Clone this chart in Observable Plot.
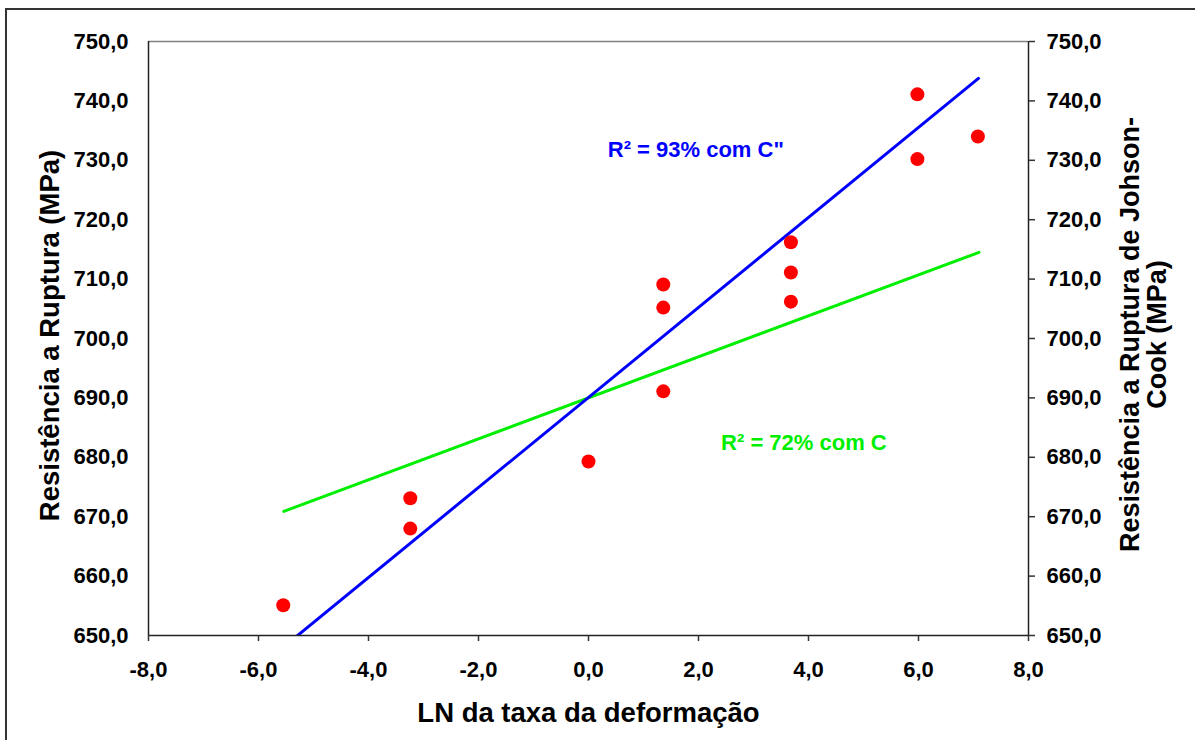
<!DOCTYPE html>
<html><head><meta charset="utf-8">
<script src="https://cdn.jsdelivr.net/npm/d3@7"></script>
<script src="https://cdn.jsdelivr.net/npm/@observablehq/plot@0.6"></script>
<style>
html,body{margin:0;padding:0;background:#fff;overflow:hidden;width:1195px;height:740px;}
#frame{position:absolute;left:5px;top:8px;width:1300px;height:900px;border:2px solid #333;box-sizing:border-box;}
#chart{position:absolute;left:0;top:0;}
</style></head><body><div id="frame"></div><div id="chart"></div>
<script>
// measured points
const lnRate   = [-5.55, -3.24, -3.24, 0.0, 1.36, 1.36, 1.36, 3.68, 3.68, 3.68, 5.98, 5.98, 7.08];
const strength = [655.1, 668.0, 673.1, 679.3, 691.1, 705.2, 709.1, 706.2, 711.1, 716.2, 730.2, 741.1, 734.0];
// fitted lines (endpoints)
const blueX = [-5.54, 7.09];
const blueY = [648.1, 743.8];
const greenX = [-5.54, 7.10];
const greenY = [670.9, 714.5];
// tick values
const xTicks = [-8, -6, -4, -2, 0, 2, 4, 6, 8];
const yTicks = [650, 660, 670, 680, 690, 700, 710, 720, 730, 740, 750];
// labels
const xTitle = "LN da taxa da deformação";
const yTitleLeft = "Resistência a Ruptura (MPa)";
const yTitleRight = "Resistência a Ruptura de Johson-\nCook (MPa)";
const annotations = [
  {x: 0.35, y: 730.5, text: "R² = 93% com C\"", color: "#0000ff"},
  {x: 2.41, y: 681.3, text: "R² = 72% com C", color: "#00ee00"}
];

const points = lnRate.map((x, i) => ({x, y: strength[i]}));
const blue = blueX.map((x, i) => ({x, y: blueY[i]}));
const green = greenX.map((x, i) => ({x, y: greenY[i]}));
const fmt = d => d.toFixed(1).replace(".", ",");

const chart = Plot.plot({
  width: 1195, height: 740,
  marginLeft: 148, marginRight: 167, marginTop: 41, marginBottom: 105,
  style: {fontFamily: "'Liberation Sans', Arial, sans-serif", fontSize: "22px", fontWeight: "bold", color: "#000", background: "transparent"},
  x: {domain: [-8, 8]},
  y: {domain: [650, 750]},
  marks: [
    Plot.ruleY([750], {stroke: "#808080", strokeWidth: 1.5}),
    Plot.line(green, {x: "x", y: "y", stroke: "#00ee00", strokeWidth: 3, clip: true}),
    Plot.line(blue, {x: "x", y: "y", stroke: "#0000ff", strokeWidth: 3, clip: true}),
    Plot.dot(points, {x: "x", y: "y", r: 7, fill: "#ff0000", stroke: "none"}),
    Plot.ruleX([-8], {stroke: "#222", strokeWidth: 1.5}),
    Plot.ruleX([8], {stroke: "#222", strokeWidth: 1.5}),
    Plot.ruleY([650], {stroke: "#222", strokeWidth: 1.5}),
    Plot.axisX({ticks: xTicks, tickFormat: fmt, tickSize: 6, tickPadding: 20, label: null, stroke: "#333", strokeWidth: 1.5}),
    Plot.axisY({anchor: "left", ticks: yTicks, tickFormat: fmt, tickSize: 0, tickPadding: 20, label: null}),
    Plot.axisY({anchor: "right", ticks: yTicks, tickFormat: fmt, tickSize: 6, tickPadding: 12, label: null, stroke: "#333", strokeWidth: 1.5}),
    Plot.text(annotations, {x: "x", y: "y", text: "text", fill: "color", textAnchor: "start", lineAnchor: "bottom", fontSize: 22}),
    Plot.text([xTitle], {frameAnchor: "bottom", dy: 86, lineAnchor: "bottom", textAnchor: "middle", fontSize: 27.5}),
    Plot.text([yTitleLeft], {frameAnchor: "left", rotate: -90, dx: -90, dy: -3, lineAnchor: "bottom", textAnchor: "middle", fontSize: 27.5}),
    Plot.text([yTitleRight], {frameAnchor: "right", rotate: -90, dx: 137, dy: -4, lineAnchor: "bottom", textAnchor: "middle", lineHeight: 0.98, fontSize: 27})
  ]
});
document.getElementById("chart").appendChild(chart);
</script></body></html>
